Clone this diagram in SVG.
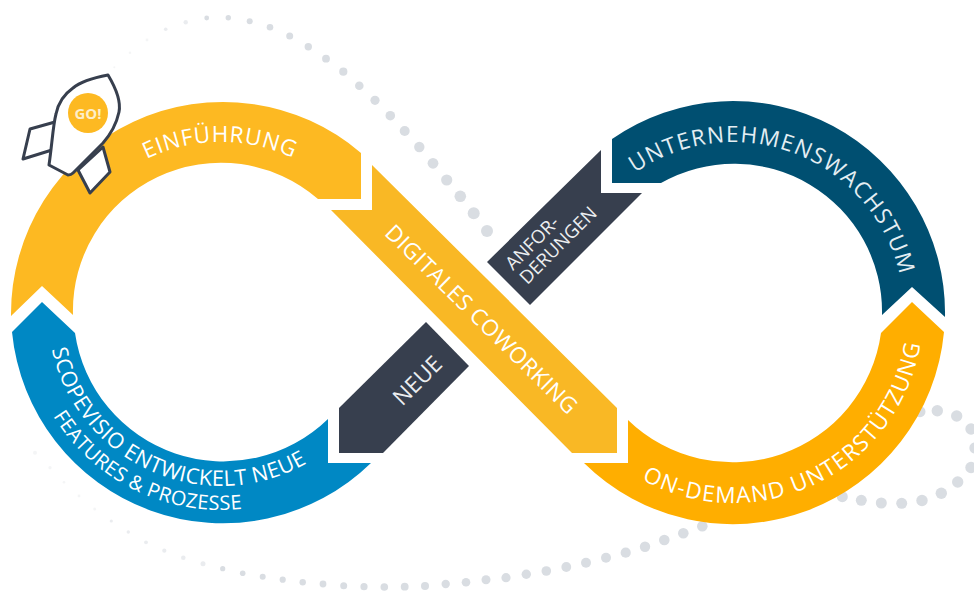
<svg xmlns="http://www.w3.org/2000/svg" width="974" height="591" viewBox="0 0 974 591">
<style>
text{font-family:"Open Sans","Noto Sans","Liberation Sans",sans-serif;fill:#fff}
.m{font-size:22.5px}
.s{font-size:18.5px;fill:#eceef0}
.d{fill:#d9dde2}
.f{fill:#d9dde2;fill-opacity:.55}
.g{fill:#d9dde2;fill-opacity:.3}
</style>
<defs>
<path id="pEin" d="M50 313 A171 171 0 0 1 392 313"/>
<path id="pUnt" d="M562 313 A171 171 0 0 1 904 313"/>
<path id="pOn" d="M543 313 A190 190 0 0 0 923 313"/>
<path id="pSc1" d="M48 313 A173 173 0 0 0 394 313"/>
<path id="pSc2" d="M24 313 A197 197 0 0 0 418 313"/>
</defs>
<rect width="974" height="591" fill="#fff"/>
<g id="dots">
<circle class="g" cx="114.3" cy="67.3" r="1"/><circle class="g" cx="130" cy="52.7" r="1.2"/><circle class="g" cx="147" cy="40" r="1.4"/><circle class="f" cx="165.7" cy="29.3" r="1.8"/><circle class="f" cx="185.7" cy="22.3" r="2.2"/><circle class="d" cx="206.7" cy="18" r="2.4"/><circle class="d" cx="228.3" cy="17.7" r="2.7"/><circle class="d" cx="249.7" cy="21.3" r="3"/><circle class="d" cx="270" cy="27.3" r="3.3"/><circle class="d" cx="289.7" cy="36" r="3.5"/><circle class="d" cx="308.3" cy="46.7" r="3.7"/><circle class="d" cx="326" cy="58.7" r="3.9"/><circle class="d" cx="343.3" cy="71.7" r="4.1"/><circle class="d" cx="359.3" cy="85.7" r="4.3"/><circle class="d" cx="375" cy="100.3" r="4.6"/><circle class="d" cx="390.3" cy="115.7" r="4.8"/><circle class="d" cx="404.7" cy="131" r="5"/><circle class="d" cx="419.3" cy="147" r="5.2"/><circle class="d" cx="433" cy="163.3" r="5.4"/><circle class="d" cx="446.7" cy="180" r="5.6"/><circle class="d" cx="460.3" cy="196.3" r="5.8"/><circle class="d" cx="473.7" cy="213.3" r="6"/><circle class="d" cx="487" cy="231" r="6"/>
<circle class="d" cx="920" cy="411.7" r="5.5"/><circle class="d" cx="937.3" cy="410.7" r="5.7"/><circle class="d" cx="956.7" cy="416" r="5.7"/><circle class="d" cx="971" cy="429" r="5.7"/><circle class="d" cx="975" cy="448" r="5.7"/>
<circle class="d" cx="971" cy="467.5" r="5.7"/><circle class="d" cx="957.7" cy="482" r="5.7"/><circle class="d" cx="941.3" cy="493.3" r="5.7"/><circle class="d" cx="922" cy="500.5" r="5.7"/><circle class="d" cx="901.7" cy="503.3" r="5.5"/><circle class="d" cx="881.3" cy="503" r="5.5"/><circle class="d" cx="861.3" cy="500.3" r="5.5"/><circle class="d" cx="842.3" cy="496.7" r="5.5"/>
<circle class="d" cx="702.3" cy="526.3" r="5.3"/><circle class="d" cx="683.3" cy="533.3" r="5.3"/><circle class="d" cx="664.3" cy="540" r="5.3"/><circle class="d" cx="645" cy="546.7" r="5.2"/><circle class="d" cx="625.7" cy="552.7" r="5.1"/><circle class="d" cx="606" cy="557.7" r="5"/><circle class="d" cx="586" cy="562.7" r="5"/><circle class="d" cx="566.3" cy="567" r="4.9"/><circle class="d" cx="546.3" cy="571" r="4.8"/><circle class="d" cx="526.3" cy="574.3" r="4.7"/><circle class="d" cx="506" cy="577.7" r="4.6"/><circle class="d" cx="486" cy="579.7" r="4.5"/>
<circle class="d" cx="466" cy="582.3" r="4.3"/><circle class="d" cx="445.7" cy="584" r="4.2"/><circle class="d" cx="425" cy="586" r="4"/><circle class="d" cx="404.7" cy="586.7" r="3.9"/><circle class="d" cx="384.3" cy="587" r="3.8"/><circle class="d" cx="364" cy="586.7" r="3.6"/><circle class="d" cx="343.7" cy="585.7" r="3.5"/><circle class="d" cx="323" cy="584" r="3.4"/><circle class="d" cx="302.7" cy="582.3" r="3.2"/><circle class="d" cx="282.7" cy="579.7" r="3.1"/><circle class="d" cx="262.7" cy="576.7" r="3"/><circle class="d" cx="242.7" cy="573.3" r="2.8"/><circle class="d" cx="222.7" cy="568.7" r="2.6"/><circle class="f" cx="203" cy="563.7" r="2.5"/><circle class="f" cx="183.3" cy="557.7" r="2.3"/><circle class="f" cx="164.3" cy="550.7" r="2.1"/><circle class="f" cx="146" cy="542.3" r="1.9"/><circle class="f" cx="128.3" cy="532" r="1.7"/><circle class="f" cx="111.3" cy="521" r="1.6"/><circle class="g" cx="94.7" cy="509" r="1.5"/><circle class="g" cx="79" cy="496" r="1.4"/><circle class="g" cx="64" cy="482.3" r="1.3"/><circle class="g" cx="50" cy="467.7" r="1.6"/><circle class="g" cx="35" cy="452.7" r="2"/>
</g>
<g id="einfuehrung">
<path fill="#fdb922" d="M11 316 L42 286 L73 315 A148 148 0 0 1 318 199 L361 199 L361 153 A212 212 0 0 0 11 316Z"/>
<text class="m" letter-spacing=".8"><textPath href="#pEin" startOffset="49.8%" text-anchor="middle">EINFÜHRUNG</textPath></text>
</g>
<g id="digitales">
<path fill="#f9b825" d="M372 165 L372 210 L331 210 L572 453 L617 453 L617 408Z"/>
<text class="m" transform="translate(476 325) rotate(44.5)" text-anchor="middle" letter-spacing=".4">DIGITALES COWORKING</text>
</g>
<g id="anforderungen">
<path fill="#373f4e" d="M601 150 L601 193 L642 193 L530 305 L487 262Z"/>
<text class="s" transform="translate(513 271) rotate(-45)"><tspan x="0" y="0">ANFOR-</tspan><tspan x="0" y="20">DERUNGEN</tspan></text>
</g>
<g id="neue">
<path fill="#373f4e" d="M426 322 L469 366 L383 453 L339 453 L339 408Z"/>
<text class="m" style="fill:#eceef0" transform="translate(423 386) rotate(-45)" text-anchor="middle">NEUE</text>
</g>
<g id="scopevisio">
<path fill="#0088c4" d="M42 302 L12 332 A212 212 0 0 0 371 463 L328 463 L328 419 A150 150 0 0 1 75 333Z"/>
<text font-size="21.500" letter-spacing=".4"><textPath href="#pSc1" startOffset="36.7%" text-anchor="middle">SCOPEVISIO ENTWICKELT NEUE</textPath></text>
<text font-size="20" letter-spacing=".4"><textPath href="#pSc2" startOffset="35.5%" text-anchor="middle">FEATURES &amp; PROZESSE</textPath></text>
</g>
<g id="unternehmenswachstum">
<path fill="#004f71" d="M612 139 L612 183 L661 183 A148 148 0 0 1 882 315 L912 287 L945 317 A212 212 0 0 0 612 139Z"/>
<text class="m" letter-spacing="1.4" style="fill:#e4eef3"><textPath href="#pUnt" startOffset="61.8%" text-anchor="middle">UNTERNEHMENSWACHSTUM</textPath></text>
</g>
<g id="ondemand">
<path fill="#ffae00" d="M912 302 L881 333 A150 150 0 0 1 628 420 L628 463 L584 463 A212 212 0 0 0 944 332Z"/>
<text class="m" letter-spacing="1.35"><textPath href="#pOn" startOffset="64.5%" text-anchor="middle">ON-DEMAND UNTERSTÜTZUNG</textPath></text>
</g>
<g id="rocket" stroke="#373f4e" stroke-width="3" stroke-linejoin="round" fill="#fff">
<path d="M55 122 L30 129 L23 159 L52 150Z"/>
<path d="M103 147 L110 172 L90 193 L78 170Z"/>
<path d="M108 75 C92 78 80 82 73 88 C63 95 58 104 56 114 C53 125 52 145 49 165 L68 175 Q71 175 73 173 L103 143 C110 135 116 126 119 112 C121 102 117 90 108 75Z"/>
<circle cx="88" cy="113" r="20" fill="#fdb922" stroke="none"/>
<text x="88" y="118.500" text-anchor="middle" font-size="15" font-weight="700" stroke="none" style="fill:#fdeec9">GO!</text>
</g>
</svg>
